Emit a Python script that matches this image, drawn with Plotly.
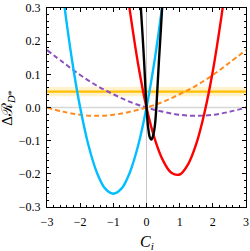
import plotly.graph_objects as go

# ---- data ----
cyan_x = [-2.6, -2.4, -2.2, -2.0, -1.75, -1.5, -1.25, -1.0, -0.75, -0.5, -0.25, 0.0, 0.25, 0.5]
cyan_y = [0.406, 0.250, 0.114, 0.0, -0.114, -0.195, -0.244, -0.26, -0.244, -0.195, -0.114, 0.0, 0.146, 0.325]

red_x = [-0.6, -0.5, -0.25, 0.0, 0.25, 0.5, 0.75, 1.0, 1.25, 1.5, 1.75, 2.0, 2.25, 2.4]
red_y = [0.364, 0.291, 0.129, 0.0, -0.095, -0.160, -0.197, -0.202, -0.172, -0.110, -0.015, 0.110, 0.268, 0.379]

black_x = [-0.22, -0.17, -0.12, -0.075, -0.035, 0.0, 0.05, 0.1, 0.145, 0.2, 0.25, 0.29, 0.32, 0.377, 0.43, 0.47, 0.5]
black_y = [0.40, 0.30, 0.22, 0.144, 0.065, 0.0, -0.06, -0.09, -0.097, -0.085, -0.057, -0.01, 0.04, 0.144, 0.23, 0.30, 0.36]

purple_x = [-3.0, -2.5, -2.0, -1.5, -1.0, -0.5, 0.0, 0.5, 1.0, 1.5, 2.0, 2.5, 3.0]
purple_y = [0.173, 0.135, 0.098, 0.066, 0.040, 0.017, 0.0, -0.013, -0.022, -0.025, -0.022, -0.013, 0.0]

orange_x = [-3.0, -2.5, -2.0, -1.5, -1.0, -0.5, 0.0, 0.5, 1.0, 1.5, 2.0, 2.5, 3.0]
orange_y = [0.0, -0.013, -0.022, -0.025, -0.022, -0.013, 0.0, 0.017, 0.040, 0.066, 0.098, 0.135, 0.173]

band_x = [-3.0, 3.0]
band_center = 0.048
band_low = 0.034
band_high = 0.062

x_ticks = [-3, -2, -1, 0, 1, 2, 3]
y_ticks = [-0.3, -0.2, -0.1, 0.0, 0.1, 0.2, 0.3]
y_tick_text = ["\u22120.3", "\u22120.2", "\u22120.1", "0.0", "0.1", "0.2", "0.3"]
x_tick_text = ["\u22123", "\u22122", "\u22121", "0", "1", "2", "3"]

FONT = "Liberation Serif, DejaVu Serif, serif"

fig = go.Figure()

# yellow band
fig.add_trace(go.Scatter(x=band_x, y=[band_low, band_low], mode="lines",
                         line=dict(width=0), hoverinfo="skip", showlegend=False))
fig.add_trace(go.Scatter(x=band_x, y=[band_high, band_high], mode="lines",
                         line=dict(width=0), fill="tonexty",
                         fillcolor="rgba(255,200,40,0.25)", showlegend=False))
# zero reference lines
fig.add_trace(go.Scatter(x=[-3, 3], y=[0, 0], mode="lines",
                         line=dict(color="rgb(215,215,215)", width=1.6), showlegend=False))
fig.add_trace(go.Scatter(x=[0, 0], y=[-0.3, 0.3], mode="lines",
                         line=dict(color="rgb(200,200,200)", width=1), showlegend=False))
fig.add_trace(go.Scatter(x=band_x, y=[band_center, band_center], mode="lines",
                         line=dict(color="rgb(255,190,0)", width=2.2), showlegend=False))

fig.add_trace(go.Scatter(x=purple_x, y=purple_y, mode="lines", line_shape="spline",
                         line=dict(color="rgb(140,80,190)", width=2, dash="5px,3px"), showlegend=False))
fig.add_trace(go.Scatter(x=orange_x, y=orange_y, mode="lines", line_shape="spline",
                         line=dict(color="rgb(255,140,30)", width=2, dash="5px,3px"), showlegend=False))
fig.add_trace(go.Scatter(x=cyan_x, y=cyan_y, mode="lines", line_shape="spline",
                         line=dict(color="rgb(0,190,255)", width=2.4), showlegend=False))
fig.add_trace(go.Scatter(x=red_x, y=red_y, mode="lines", line_shape="spline",
                         line=dict(color="rgb(255,0,0)", width=2.4), showlegend=False))
fig.add_trace(go.Scatter(x=black_x, y=black_y, mode="lines", line_shape="spline",
                         line=dict(color="black", width=2.4), showlegend=False))

axis_common = dict(showgrid=False, zeroline=False, showline=True, linecolor="black",
                   linewidth=1.2, mirror="allticks", ticks="inside", ticklen=4,
                   tickwidth=1, tickcolor="black", automargin=False,
                   tickfont=dict(family=FONT, size=12, color="black"))

fig.update_xaxes(range=[-3, 3], tickvals=x_ticks, ticktext=x_tick_text,
                 minor=dict(dtick=0.2, ticks="inside", ticklen=2, tickcolor="black", showgrid=False),
                 ticklabelstandoff=3,
                 **axis_common)
fig.update_yaxes(range=[-0.3, 0.3], tickvals=y_ticks, ticktext=y_tick_text,
                 minor=dict(dtick=0.02, ticks="inside", ticklen=2, tickcolor="black", showgrid=False),
                 ticklabelstandoff=3,
                 **axis_common)

fig.add_annotation(text="<i>C<sub>i</sub></i>", xref="paper", yref="paper",
                   x=0.5, y=-0.12, xanchor="center", yanchor="top", showarrow=False,
                   font=dict(family=FONT, size=16, color="black"))
fig.add_annotation(text="\u0394\u211B<sub><i>D</i>*</sub>", xref="paper", yref="paper",
                   x=-0.2, y=0.5, xanchor="center", yanchor="middle", showarrow=False,
                   textangle=-90, font=dict(family=FONT, size=15, color="black"))

fig.update_layout(width=250, height=251, margin=dict(l=47, r=4, t=8, b=44),
                  plot_bgcolor="white", paper_bgcolor="white")

fig.write_html("out.html", config={"displayModeBar": False},
               post_script="document.body.style.margin='0px';")
